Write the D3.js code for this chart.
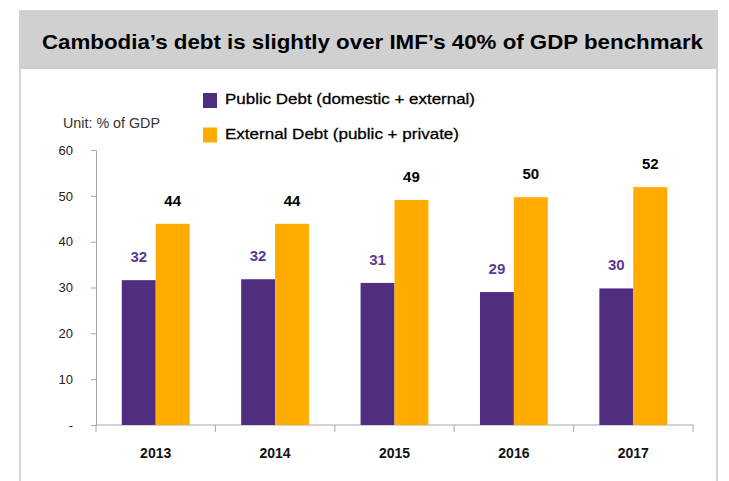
<!DOCTYPE html>
<html>
<head>
<meta charset="utf-8">
<script src="https://cdn.jsdelivr.net/npm/d3@7"></script>
<style>
  body { margin: 0; background: #fff; }
  svg { font-family: "Liberation Sans", Arial, sans-serif; }
</style>
</head>
<body>
<div id="chart"></div>
<script>
// Data
const years = ["2013", "2014", "2015", "2016", "2017"];
const publicDebt = [31.6, 31.8, 31.0, 29.0, 29.8];
const externalDebt = [43.9, 43.9, 49.1, 49.7, 51.9];
const publicLabels = ["32", "32", "31", "29", "30"];
const externalLabels = ["44", "44", "49", "50", "52"];
const yTicks = [0, 10, 20, 30, 40, 50, 60];
const seriesNames = ["Public Debt (domestic + external)", "External Debt (public + private)"];

const width = 729;
const height = 481;
const colors = ["#4f2d7f", "#ffab00"];
const labelColors = ["#5b3a96", "#000"];

const svg = d3.select("#chart")
    .append("svg")
    .attr("width", width)
    .attr("height", height);

// frame + title box
svg.append("rect")
    .attr("x", 20).attr("y", 11)
    .attr("width", 697).attr("height", 480)
    .attr("fill", "#fff")
    .attr("stroke", "#d6d6d6")
    .attr("stroke-width", 2);

svg.append("rect")
    .attr("x", 19).attr("y", 11)
    .attr("width", 699).attr("height", 58)
    .attr("fill", "#d1d0d1");

svg.append("text")
    .attr("x", 42).attr("y", 49)
    .attr("textLength", 661)
    .attr("lengthAdjust", "spacingAndGlyphs")
    .style("font-size", "21px")
    .style("font-weight", "bold")
    .attr("fill", "#000")
    .text("Cambodia’s debt is slightly over IMF’s 40% of GDP benchmark");

// scales
const x0 = d3.scaleBand()
    .domain(years)
    .range([96, 693]);

const x1 = d3.scaleBand()
    .domain([0, 1])
    .range([0, x0.bandwidth()])
    .paddingOuter(0.76);

const y = d3.scaleLinear()
    .domain([0, 60])
    .range([425, 150]);

// y axis
const yAxis = svg.append("g")
    .attr("transform", "translate(96,0)")
    .call(d3.axisLeft(y).tickValues(yTicks).tickSize(5).tickPadding(18)
        .tickFormat(d => d === 0 ? "-" : d));
yAxis.select(".domain").attr("stroke", "#a6a6a6");
yAxis.selectAll(".tick line").attr("stroke", "#a6a6a6");
yAxis.selectAll(".tick text")
    .style("font-size", "13px")
    .attr("fill", "#222");

// x axis
const xAxis = svg.append("g")
    .attr("transform", "translate(0,425)");
xAxis.append("line")
    .attr("x1", 96).attr("x2", 693)
    .attr("stroke", "#a6a6a6");
xAxis.selectAll("line.tick")
    .data(years.concat(["end"]))
    .enter().append("line")
    .attr("class", "tick")
    .attr("x1", (d, i) => i < years.length ? x0(d) : x0.range()[1])
    .attr("x2", (d, i) => i < years.length ? x0(d) : x0.range()[1])
    .attr("y1", 0).attr("y2", 7)
    .attr("stroke", "#a6a6a6");
xAxis.selectAll("text")
    .data(years)
    .enter().append("text")
    .attr("x", d => x0(d) + x0.bandwidth() / 2)
    .attr("y", 33)
    .attr("text-anchor", "middle")
    .style("font-size", "14px")
    .style("font-weight", "bold")
    .attr("fill", "#111")
    .text(d => d);

// bars
const series = [publicDebt, externalDebt];
const labels = [publicLabels, externalLabels];
series.forEach((vals, s) => {
    svg.append("g").selectAll("rect")
        .data(vals)
        .enter().append("rect")
        .attr("x", (d, i) => x0(years[i]) + x1(s))
        .attr("y", d => y(d))
        .attr("width", x1.bandwidth())
        .attr("height", d => y(0) - y(d))
        .attr("fill", colors[s]);

    svg.append("g").selectAll("text")
        .data(vals)
        .enter().append("text")
        .attr("x", (d, i) => x0(years[i]) + x1(s) + x1.bandwidth() / 2)
        .attr("y", d => y(d) - 18)
        .attr("text-anchor", "middle")
        .style("font-size", "15px")
        .style("font-weight", "bold")
        .attr("fill", labelColors[s])
        .text((d, i) => labels[s][i]);
});

// unit label
svg.append("text")
    .attr("x", 63).attr("y", 127.5)
    .attr("textLength", 97)
    .attr("lengthAdjust", "spacingAndGlyphs")
    .style("font-size", "14px")
    .attr("fill", "#333")
    .text("Unit: % of GDP");

// legend
const legendLengths = [250, 234];
const legend = svg.append("g");
seriesNames.forEach((name, i) => {
    legend.append("rect")
        .attr("x", 203).attr("y", 93 + i * 34.5)
        .attr("width", 14).attr("height", 15)
        .attr("fill", colors[i]);
    legend.append("text")
        .attr("x", 225).attr("y", 103.5 + i * 35)
        .attr("textLength", legendLengths[i])
        .attr("lengthAdjust", "spacingAndGlyphs")
        .style("font-size", "15.5px")
        .attr("fill", "#000")
        .attr("stroke", "#000")
        .attr("stroke-width", 0.3)
        .text(name);
});
</script>
</body>
</html>
